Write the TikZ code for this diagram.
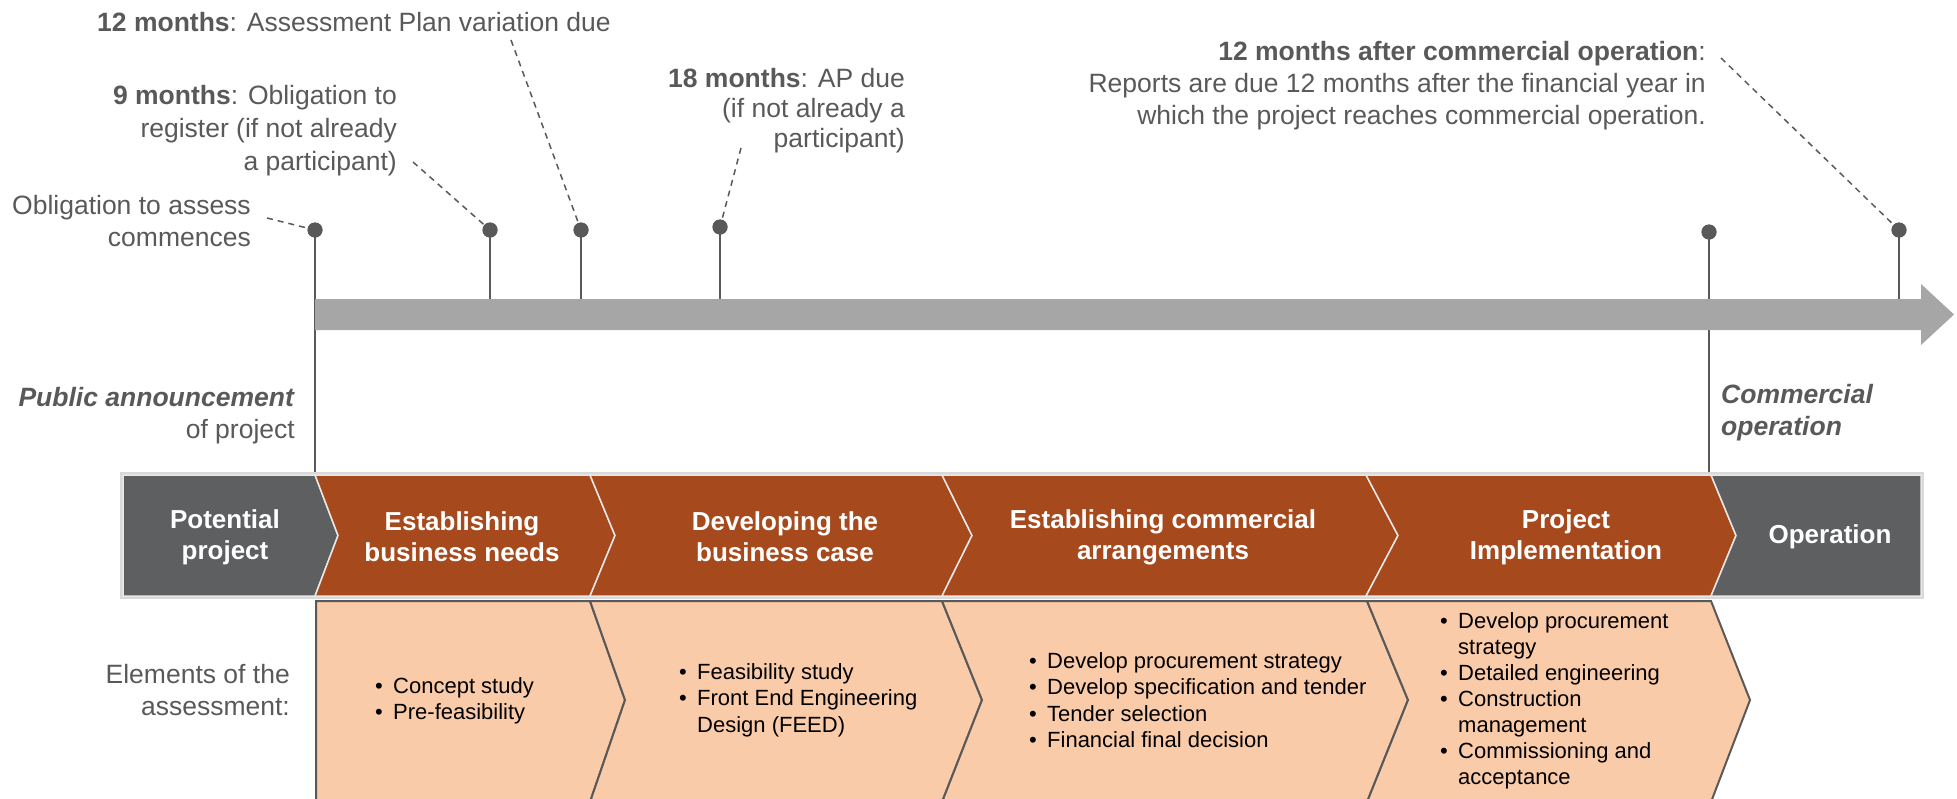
\documentclass[tikz,border=0pt]{standalone}
\usepackage{fontspec}
\setmainfont{Liberation Sans}
\definecolor{txtgrey}{HTML}{595959}
\definecolor{stagegrey}{HTML}{5E5F61}
\definecolor{rust}{HTML}{A6491D}
\definecolor{peach}{HTML}{FACBA8}
\definecolor{barcol}{HTML}{A6A6A6}
\definecolor{barline}{HTML}{D9D9D9}
\definecolor{sepcol}{HTML}{E8E8E8}
\newcommand{\bitem}[1]{\makebox[18pt][l]{\textbullet}#1}
\newcommand{\bcont}[1]{\hspace*{18pt}#1}
\tikzset{
  annot/.style={text=txtgrey, font=\fontsize{26.5}{32}\selectfont, inner sep=0pt},
  stagetxt/.style={text=white, font=\bfseries\fontsize{26}{31}\selectfont, align=center, inner sep=0pt},
  bullets/.style={text=black, font=\fontsize{22}{26.5}\selectfont, align=left, anchor=west, inner sep=0pt},
  leader/.style={draw=txtgrey, line width=1.5pt, dash pattern=on 6pt off 5pt},
  pin/.style={draw=txtgrey, line width=2pt},
  dot/.style={circle, fill=txtgrey, minimum size=15pt, inner sep=0pt},
  stagebox/.style={draw=sepcol, line width=1.5pt},
  elembox/.style={fill=peach, draw=txtgrey, line width=2pt, line join=miter}
}
\begin{document}
\begin{tikzpicture}[x=1pt,y=-1pt]
\useasboundingbox (0,0) rectangle (1957,798);

% pins
\node[dot] (d1) at (315,230) {};
\node[dot] (d2) at (490,230) {};
\node[dot] (d3) at (581,230) {};
\node[dot] (d4) at (720,227) {};
\node[dot] (d5) at (1709,232) {};
\node[dot] (d6) at (1899,230) {};
\coordinate (b1) at (315,474);
\coordinate (b2) at (490,300);
\coordinate (b3) at (581,300);
\coordinate (b4) at (720,300);
\coordinate (b5) at (1709,474);
\coordinate (b6) at (1899,300);
\draw[pin] (d1.center) -- (b1);
\draw[pin] (d2.center) -- (b2);
\draw[pin] (d3.center) -- (b3);
\draw[pin] (d4.center) -- (b4);
\draw[pin] (d5.center) -- (b5);
\draw[pin] (d6.center) -- (b6);
\foreach \d in {d1,d2,d3,d4,d5,d6} \fill[txtgrey] (\d) circle (7.5);

% timeline arrow
\fill[barcol] (315,299) -- (1921,299) -- (1921,284) -- (1954,314.5) -- (1921,345) -- (1921,330) -- (315,330) -- cycle;

% annotations
\node[annot, anchor=east, align=right] (a1) at (251,221) {Obligation to assess\\commences};
\node[annot, anchor=east, align=right, font=\fontsize{26.5}{33}\selectfont] (a2) at (397,131) {\textbf{9 months}: Obligation to\\register (if not already\\a participant)};
\node[annot, anchor=west] (a3) at (97,22) {\textbf{12 months}: Assessment Plan variation due};
\node[annot, anchor=east, align=right, font=\fontsize{26.5}{30}\selectfont] (a4) at (905,111) {\textbf{18 months}: AP due\\(if not already a\\participant)};
\node[annot, anchor=east, align=right] (a5) at (1706,86) {\textbf{12 months after commercial operation}:\\Reports are due 12 months after the financial year in\\which the project reaches commercial operation.};
\node[annot, anchor=east, align=right] (a6) at (295,416) {\textbf{\textit{Public announcement}}\\of project};
\node[annot, anchor=west, align=left] (a7) at (1721,413) {\textbf{\textit{Commercial}}\\\textbf{\textit{operation}}};
\node[annot, anchor=east, align=right] (a8) at (290,690) {Elements of the\\assessment:};

% leaders
\coordinate (l1) at (267,218);
\coordinate (l2) at (413,162);
\coordinate (l3) at (511,40);
\coordinate (l4) at (741,148);
\coordinate (l5) at (1721,58);
\draw[leader] (l1) -- (d1);
\draw[leader] (l2) -- (d2);
\draw[leader] (l3) -- (d3);
\draw[leader] (l4) -- (d4);
\draw[leader] (l5) -- (d6);

% stage bar
\draw[barline, line width=3pt] (121.5,473.5) rectangle (1922.5,597.5);
\filldraw[stagebox, fill=stagegrey] (123,475) -- (315,475) -- (338,535.5) -- (315,596) -- (123,596) -- cycle;
\filldraw[stagebox, fill=rust] (315,475) -- (590,475) -- (615,535.5) -- (590,596) -- (315,596) -- (338,535.5) -- cycle;
\filldraw[stagebox, fill=rust] (590,475) -- (942,475) -- (972,535.5) -- (942,596) -- (590,596) -- (615,535.5) -- cycle;
\filldraw[stagebox, fill=rust] (942,475) -- (1366,475) -- (1398,535.5) -- (1366,596) -- (942,596) -- (972,535.5) -- cycle;
\filldraw[stagebox, fill=rust] (1366,475) -- (1711,475) -- (1736,535.5) -- (1711,596) -- (1366,596) -- (1398,535.5) -- cycle;
\filldraw[stagebox, fill=stagegrey] (1711,475) -- (1921,475) -- (1921,596) -- (1711,596) -- (1736,535.5) -- cycle;

\node[stagetxt] (s1) at (225,537) {Potential\\project};
\node[stagetxt] (s2) at (462,537) {Establishing\\business needs};
\node[stagetxt] (s3) at (785,537) {Developing the\\business case};
\node[stagetxt] (s4) at (1163,537) {Establishing commercial\\arrangements};
\node[stagetxt] (s5) at (1566,537) {Project\\Implementation};
\node[stagetxt] (s6) at (1830,537) {Operation};

% elements
\filldraw[elembox] (316,802) -- (316,601) -- (590,601) -- (625,700) -- (590,802) -- cycle;
\filldraw[elembox] (590,601) -- (942,601) -- (982,700) -- (942,802) -- (590,802) -- (625,700) -- cycle;
\filldraw[elembox] (942,601) -- (1367,601) -- (1408,700) -- (1367,802) -- (942,802) -- (982,700) -- cycle;
\filldraw[elembox] (1367,601) -- (1711,601) -- (1750,700) -- (1711,802) -- (1367,802) -- (1408,700) -- cycle;

\node[bullets] (e1) at (375,701) {\bitem{Concept study}\\\bitem{Pre-feasibility}};
\node[bullets] (e2) at (679,700) {\bitem{Feasibility study}\\\bitem{Front End Engineering}\\\bcont{Design (FEED)}};
\node[bullets] (e3) at (1029,700) {\bitem{Develop procurement strategy}\\\bitem{Develop specification and tender}\\\bitem{Tender selection}\\\bitem{Financial final decision}};
\node[bullets, font=\fontsize{22}{26}\selectfont] (e4) at (1440,701) {\bitem{Develop procurement}\\\bcont{strategy}\\\bitem{Detailed engineering}\\\bitem{Construction}\\\bcont{management}\\\bitem{Commissioning and}\\\bcont{acceptance}};
\end{tikzpicture}
\end{document}
